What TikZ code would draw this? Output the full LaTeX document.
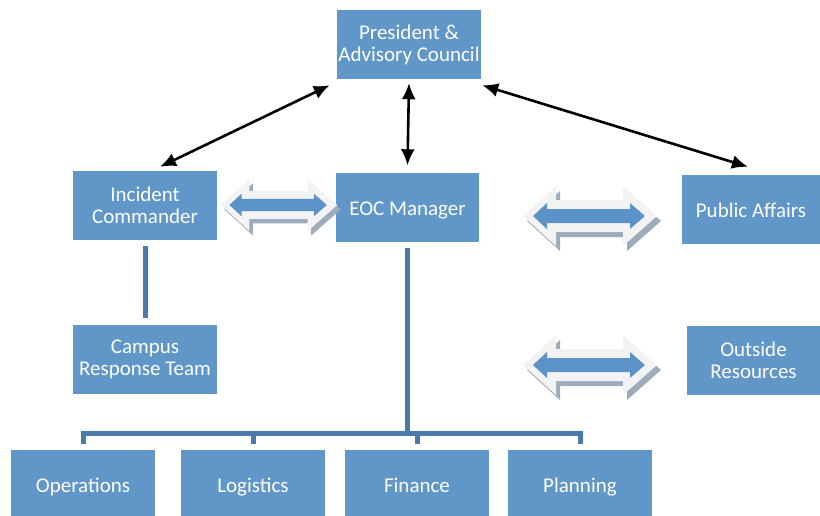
\documentclass[tikz,border=0pt]{standalone}
\usepackage{fontspec}
\setmainfont{Carlito}
\usetikzlibrary{arrows.meta}
\definecolor{boxblue}{HTML}{6096C8}
\definecolor{busblue}{HTML}{4A7AA8}
\definecolor{arrowblue}{HTML}{5B93C9}
\definecolor{paleface}{HTML}{F3F3F3}
\definecolor{shadegrey}{HTML}{9DABBB}
\newcommand{\boxfont}{\fontsize{21}{22}\selectfont}
\tikzset{box/.style = {fill=boxblue, text=white, font=\boxfont, align=center, inner sep=0pt,
                       minimum width=144pt, minimum height=69pt},
         oneline/.style = {box, text height=16.5pt, text depth=0pt},
         link/.style = {line width=2.6pt, {Latex[length=16pt,width=14pt]}-{Latex[length=16pt,width=14pt]}},
         trunk/.style = {busblue, line width=5pt},
         twoway/.pic = {
           \foreach \dx/\dy/\col in {4/5/shadegrey, 0/0/paleface}
             \fill [\col, shift={(\dx,\dy)}] (-67,0) -- (-34,-30) -- (-34,-16) -- (33,-16) -- (33,-30) -- (67,0)
                   -- (33,30) -- (33,16) -- (-34,16) -- (-34,30) -- cycle;
           \fill [arrowblue] (-57,0) -- (-43,-13) -- (-43,-7) -- (40,-7) -- (40,-13) -- (55,0)
                 -- (40,13) -- (40,7) -- (-43,7) -- (-43,13) -- cycle;}}

\begin{document}
\begin{tikzpicture}[x=1pt, y=-1pt]
  \useasboundingbox (0,0) rectangle (820,515);

  \node [box] (pres) at (409,44.5) {President \&\\Advisory Council};
  \node [box] (ic) at (145,205.5) {Incident\\Commander};
  \node [oneline, minimum width=143pt] (eoc) at (407.5,207) {EOC Manager};
  \node [oneline, minimum width=138pt] (pa) at (751,209.5) {Public Affairs};
  \node [box] (crt) at (145,359) {Campus\\Response Team};
  \node [box, minimum width=133pt] (outr) at (753.5,360.5) {Outside\\Resources};
  \node [oneline] (ops) at (83,484.5) {Operations};
  \node [oneline] (log) at (253,484.5) {Logistics};
  \node [oneline] (fin) at (417,484.5) {Finance};
  \node [oneline] (plan) at (580,484.5) {Planning};

  \draw [link] ([xshift=15pt, yshift=4pt]ic.north) -- ([xshift=-7pt, yshift=-6pt]pres.south west);
  \draw [link] ([yshift=-4pt]pres.south) -- ([yshift=7pt]eoc.north);
  \draw [link] ([xshift=1pt, yshift=-6pt]pres.south east) -- ([xshift=-3pt, yshift=8pt]pa.north);

  \pic [scale=0.87] at (279,205) {twoway};
  \pic at (590,216) {twoway};
  \pic at (590,365) {twoway};

  \draw [trunk] ([yshift=-6pt]ic.south) -- ([yshift=6pt]crt.north);

  \coordinate (bus) at (407,433);
  \draw [trunk] ([yshift=-6pt]eoc.south) -- (eoc.south |- bus);
  \draw [trunk] ([yshift=6pt]ops.north) -- (ops.north |- bus) -- (plan.north |- bus) -- ([yshift=6pt]plan.north);
  \foreach \n in {log, fin}
    \draw [trunk] (\n.north |- bus) -- ([yshift=6pt]\n.north);
\end{tikzpicture}
\end{document}
